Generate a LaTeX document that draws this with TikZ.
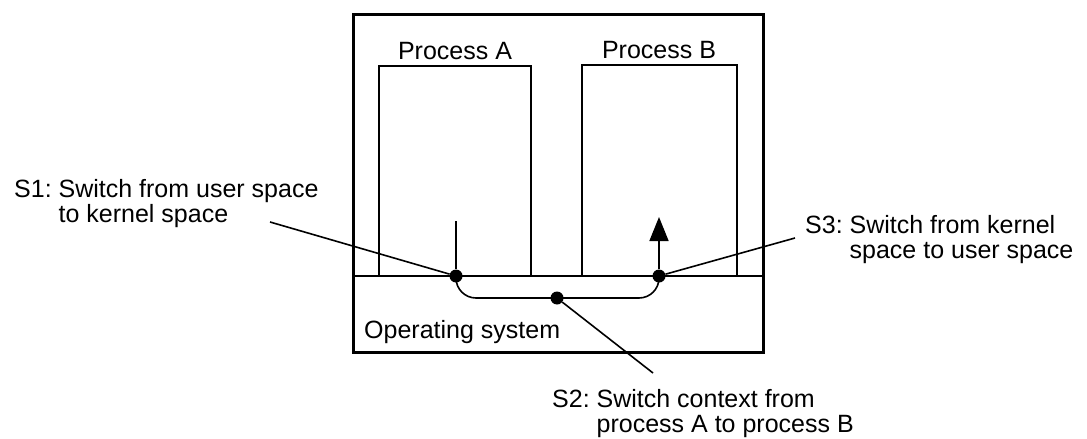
\documentclass[tikz,border=0pt]{standalone}
\usepackage{fontspec}
\setmainfont{Liberation Sans}
\usepackage{tikz}
\usetikzlibrary{arrows.meta}

\begin{document}
\begin{tikzpicture}[x=1pt, y=-1pt,
    lbl/.style={font=\fontsize{25}{25}\selectfont, inner sep=0pt},
    dot/.style={shape=circle, fill=black, inner sep=0pt, minimum size=13pt},
    wall/.style={line width=1.6pt},
    leader/.style={line width=1.6pt}]
\useasboundingbox (0,0) rectangle (1087,439);

    % the machine and the two processes
    \draw[line width=3pt] (353,14) rectangle (763,352);
    \draw[wall] (353,276) -- (763,276);
    \draw[wall] (379,276) |- (531,66) -- (531,276);
    \draw[wall] (582,276) |- (737,65) -- (737,276);

    \node[lbl, anchor=base] (PA) at (455,59) {Process A};
    \node[lbl, anchor=base] (PB) at (659,58) {Process B};
    \node[lbl, anchor=base west] (OS) at (364,338) {Operating system};

    % switch points
    \coordinate (runA) at (456,221);
    \coordinate (tipB) at (659,217);
    \coordinate (S1end) at (270,222);
    \coordinate (S2end) at (653,373);
    \coordinate (S3end) at (795,238);

    \draw[wall, rounded corners=20pt] (456,276) |- (557,298) -| (659,276);

    \node[dot] (S1) at (456,276) {};
    \node[dot] (S2) at (557,298) {};
    \node[dot] (S3) at (659,276) {};

    \draw[wall] (runA) -- (S1);
    \draw[wall, -{Triangle[length=24pt, width=19pt]}] (S3) -- (tipB);

    \draw[leader] (S1end) -- (S1);
    \draw[leader] (S2end) -- (S2);
    \draw[leader] (S3end) -- (S3);

    \node[lbl, anchor=base west] (S1text) at (14,197)
        {\begin{tabular}[t]{@{}l@{\ }l@{}}S1: & Switch from user space\\ & to kernel space\end{tabular}};
    \node[lbl, anchor=base west] (S2text) at (552,407)
        {\begin{tabular}[t]{@{}l@{\ }l@{}}S2: & Switch context from\\ & process A to process B\end{tabular}};
    \node[lbl, anchor=base west] (S3text) at (805,233)
        {\begin{tabular}[t]{@{}l@{\ }l@{}}S3: & Switch from kernel\\ & space to user space\end{tabular}};

\end{tikzpicture}
\end{document}
